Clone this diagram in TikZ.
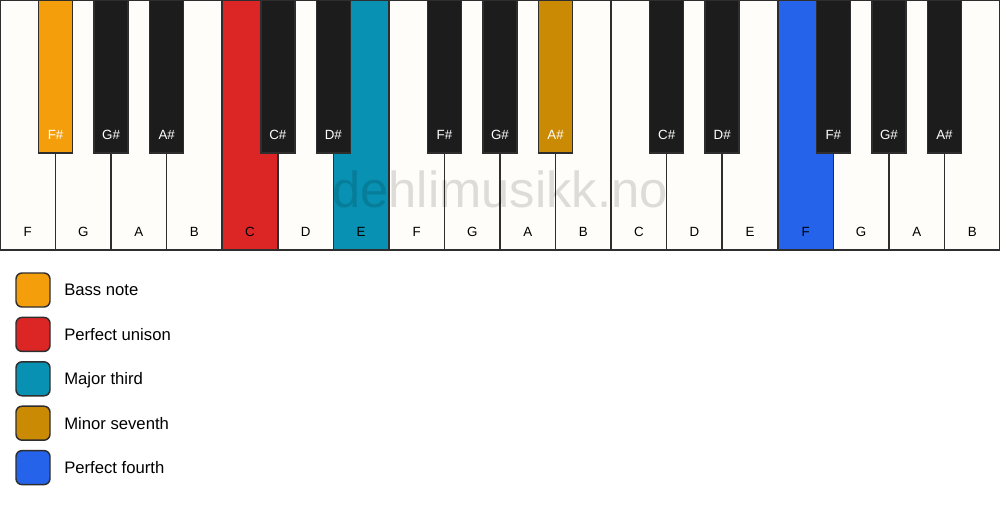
\documentclass[tikz,border=0pt]{standalone}
\usepackage{fontspec}
\setmainfont{Liberation Sans}
\definecolor{keywhite}{HTML}{FFFDFA}
\definecolor{keyblack}{HTML}{1C1C1C}
\definecolor{keyline}{HTML}{2E2E2E}
\definecolor{bassorange}{HTML}{F59E0B}
\definecolor{unisonred}{HTML}{DC2626}
\definecolor{thirdteal}{HTML}{0891B2}
\definecolor{seventhgold}{HTML}{CA8A04}
\definecolor{fourthblue}{HTML}{2563EB}
\tikzset{
  whitekey/.style={draw=keyline, line width=1.1pt, fill=keywhite, rectangle, minimum width=41.67pt, minimum height=187.5pt, inner sep=0pt, font=\fontsize{12.5}{15}\selectfont},
  blackkey/.style={draw=keyline, line width=1.1pt, fill=keyblack, rectangle, minimum width=25.5pt, minimum height=114.75pt, inner sep=0pt, font=\fontsize{12.5}{15}\selectfont},
  wname/.style={label={[anchor=base, yshift=10.5pt, text=black]south:#1}},
  bname/.style={label={[anchor=base, yshift=10.5pt, text=white]south:#1}},
  swatch/.style={draw=keyline, line width=1.1pt, rectangle, rounded corners=4.5pt, minimum size=25.5pt, inner sep=0pt},
  legendtext/.style={anchor=base west, inner sep=0pt, font=\fontsize{12.5}{15}\selectfont}
}
\begin{document}
\begin{tikzpicture}[x=0.75pt, y=-0.75pt]
\useasboundingbox[fill=white] (0,0) rectangle (1000,506);
% White keys
\node[whitekey, wname=F] (wF1) at (27.8,125) {};
\node[whitekey, wname=G] (wG1) at (83.3,125) {};
\node[whitekey, wname=A] (wA1) at (138.9,125) {};
\node[whitekey, wname=B] (wB1) at (194.4,125) {};
\node[whitekey, fill=unisonred, wname=C] (wC1) at (250,125) {};
\node[whitekey, wname=D] (wD1) at (305.6,125) {};
\node[whitekey, fill=thirdteal, wname=E] (wE1) at (361.1,125) {};
\node[whitekey, wname=F] (wF2) at (416.7,125) {};
\node[whitekey, wname=G] (wG2) at (472.2,125) {};
\node[whitekey, wname=A] (wA2) at (527.8,125) {};
\node[whitekey, wname=B] (wB2) at (583.3,125) {};
\node[whitekey, wname=C] (wC2) at (638.9,125) {};
\node[whitekey, wname=D] (wD2) at (694.4,125) {};
\node[whitekey, wname=E] (wE2) at (750,125) {};
\node[whitekey, fill=fourthblue, wname=F] (wF3) at (805.6,125) {};
\node[whitekey, wname=G] (wG3) at (861.1,125) {};
\node[whitekey, wname=A] (wA3) at (916.7,125) {};
\node[whitekey, wname=B] (wB3) at (972.2,125) {};

% Black keys
\node[blackkey, fill=bassorange, bname=F\#] (bFs1) at (55.6,76.5) {};
\node[blackkey, bname=G\#] (bGs1) at (111.1,76.5) {};
\node[blackkey, bname=A\#] (bAs1) at (166.7,76.5) {};
\node[blackkey, bname=C\#] (bCs1) at (277.8,76.5) {};
\node[blackkey, bname=D\#] (bDs1) at (333.3,76.5) {};
\node[blackkey, bname=F\#] (bFs2) at (444.4,76.5) {};
\node[blackkey, bname=G\#] (bGs2) at (500,76.5) {};
\node[blackkey, fill=seventhgold, bname=A\#] (bAs2) at (555.6,76.5) {};
\node[blackkey, bname=C\#] (bCs2) at (666.7,76.5) {};
\node[blackkey, bname=D\#] (bDs2) at (722.2,76.5) {};
\node[blackkey, bname=F\#] (bFs3) at (833.3,76.5) {};
\node[blackkey, bname=G\#] (bGs3) at (888.9,76.5) {};
\node[blackkey, bname=A\#] (bAs3) at (944.4,76.5) {};

% Watermark
\node[text=black, text opacity=0.13, font=\fontsize{38}{42}\selectfont, anchor=base] (mark) at (500,208) {dehlimusikk.no};

% Legend
\node[swatch, fill=bassorange] (s1) at (33,290) {};
\node[legendtext] (t1) at (64,296) {Bass note};
\node[swatch, fill=unisonred] (s2) at (33,334.4) {};
\node[legendtext] (t2) at (64,340.4) {Perfect unison};
\node[swatch, fill=thirdteal] (s3) at (33,378.8) {};
\node[legendtext] (t3) at (64,384.8) {Major third};
\node[swatch, fill=seventhgold] (s4) at (33,423.2) {};
\node[legendtext] (t4) at (64,429.2) {Minor seventh};
\node[swatch, fill=fourthblue] (s5) at (33,467.6) {};
\node[legendtext] (t5) at (64,473.6) {Perfect fourth};
\end{tikzpicture}
\end{document}
